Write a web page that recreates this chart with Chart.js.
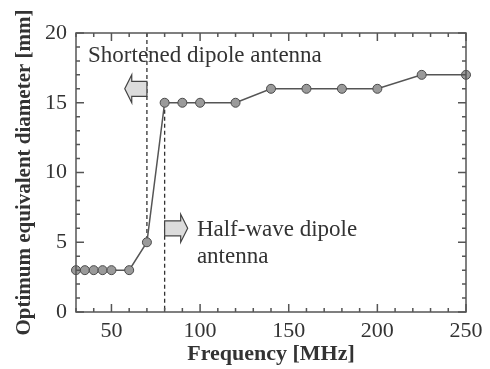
<!DOCTYPE html>
<html>
<head>
<meta charset="utf-8">
<script src="https://cdn.jsdelivr.net/npm/chart.js@4/dist/chart.umd.min.js"></script>
<style>
  body { margin: 0; background: #fff; }
</style>
</head>
<body>
<canvas id="myChart" width="490" height="369"></canvas>
<script>
const freq = [30, 35, 40, 45, 50, 60, 70, 80, 90, 100, 120, 140, 160, 180, 200, 225, 250];
const diameter = [3, 3, 3, 3, 3, 3, 5, 15, 15, 15, 15, 16, 16, 16, 16, 17, 17];
const xTicks = [50, 100, 150, 200, 250];
const yTicks = [0, 5, 10, 15, 20];

// dashed boundaries between the two antenna regions
const boundaryFreq = [70, 80];
const boundaryTop = [20, 15];
const boundaryBottom = [5, 0];

const ink = '#333';
const serif = "'Liberation Serif', 'Times New Roman', serif";
Chart.defaults.font.family = serif;
Chart.defaults.color = ink;

const points = freq.map((f, i) => ({ x: f, y: diameter[i] }));

const boundaryDatasets = boundaryFreq.map((f, i) => ({
  data: [{ x: f, y: boundaryTop[i] }, { x: f, y: boundaryBottom[i] }],
  borderColor: '#333',
  borderWidth: 1.3,
  borderDash: [4, 3],
  pointRadius: 0,
  showLine: true,
  clip: false,
}));

function arrow(ctx, x, y, base, tip, val) {
  const bx = x.getPixelForValue(base);
  const tx = x.getPixelForValue(tip);
  const cy = y.getPixelForValue(val);
  const dir = Math.sign(tx - bx);
  const neck = tx - dir * 7;
  ctx.beginPath();
  ctx.moveTo(bx, cy - 7.5);
  ctx.lineTo(neck, cy - 7.5);
  ctx.lineTo(neck, cy - 14);
  ctx.lineTo(tx, cy);
  ctx.lineTo(neck, cy + 14);
  ctx.lineTo(neck, cy + 7.5);
  ctx.lineTo(bx, cy + 7.5);
  ctx.closePath();
  ctx.fillStyle = '#dcdcdc';
  ctx.fill();
  ctx.strokeStyle = '#444';
  ctx.lineWidth = 1.2;
  ctx.stroke();
}

const frame = {
  id: 'frame',
  afterDraw(chart) {
    const { ctx, chartArea: a, scales: { x, y } } = chart;
    ctx.save();
    ctx.strokeStyle = '#555';
    ctx.lineWidth = 1.5;
    ctx.strokeRect(a.left, a.top, a.right - a.left, a.bottom - a.top);
    ctx.beginPath();
    for (let v = 30; v <= 250; v += 10) {
      const px = x.getPixelForValue(v);
      const len = v % 50 === 0 ? 8 : 4;
      ctx.moveTo(px, a.bottom); ctx.lineTo(px, a.bottom - len);
      ctx.moveTo(px, a.top); ctx.lineTo(px, a.top + len);
    }
    for (let v = 0; v <= 20; v++) {
      const py = y.getPixelForValue(v);
      const len = v % 5 === 0 ? 8 : 4;
      ctx.moveTo(a.left, py); ctx.lineTo(a.left + len, py);
      ctx.moveTo(a.right, py); ctx.lineTo(a.right - len, py);
    }
    ctx.stroke();

    arrow(ctx, x, y, 70, 57.5, 16);
    arrow(ctx, x, y, 80, 93, 6);

    ctx.fillStyle = ink;
    ctx.font = '23px ' + serif;
    ctx.textBaseline = 'alphabetic';
    ctx.fillText('Shortened dipole antenna', x.getPixelForValue(36.8), y.getPixelForValue(17.94));
    ctx.fillText('Half-wave dipole', x.getPixelForValue(98.2), y.getPixelForValue(5.43));
    ctx.fillText('antenna', x.getPixelForValue(98.2), y.getPixelForValue(3.49));
    ctx.restore();
  }
};

const config = {
  type: 'scatter',
  data: {
    datasets: [{
      data: points,
      showLine: true,
      borderColor: '#555',
      borderWidth: 1.5,
      pointRadius: 4.5,
      pointBackgroundColor: '#9a9a9a',
      pointBorderColor: '#4a4a4a',
      pointBorderWidth: 1,
      clip: false,
    }, ...boundaryDatasets]
  },
  options: {
    responsive: false,
    animation: false,
    layout: { padding: { top: 33, right: 24 } },
    plugins: { legend: { display: false }, tooltip: { enabled: false } },
    scales: {
      x: {
        type: 'linear',
        min: 30,
        max: 250,
        afterBuildTicks: s => { s.ticks = xTicks.map(v => ({ value: v })); },
        afterFit: s => { s.height = 57; },
        grid: { display: false, drawTicks: false },
        border: { display: false },
        ticks: { font: { size: 22 }, padding: 6, maxRotation: 0 },
        title: {
          display: true,
          text: 'Frequency [MHz]',
          font: { size: 22, weight: 'bold' },
          padding: { top: 0, bottom: 1 }
        }
      },
      y: {
        min: 0,
        max: 20,
        afterBuildTicks: s => { s.ticks = yTicks.map(v => ({ value: v })); },
        afterFit: s => { s.width = 76; },
        grid: { display: false, drawTicks: false },
        border: { display: false },
        ticks: { font: { size: 22 }, padding: 9 },
        title: {
          display: true,
          text: 'Optimum equivalent diameter [mm]',
          font: { size: 21, weight: 'bold' },
          padding: { top: 12, bottom: 0 }
        }
      }
    }
  },
  plugins: [frame]
};

const myChart = new Chart(document.getElementById('myChart'), config);
</script>
</body>
</html>
